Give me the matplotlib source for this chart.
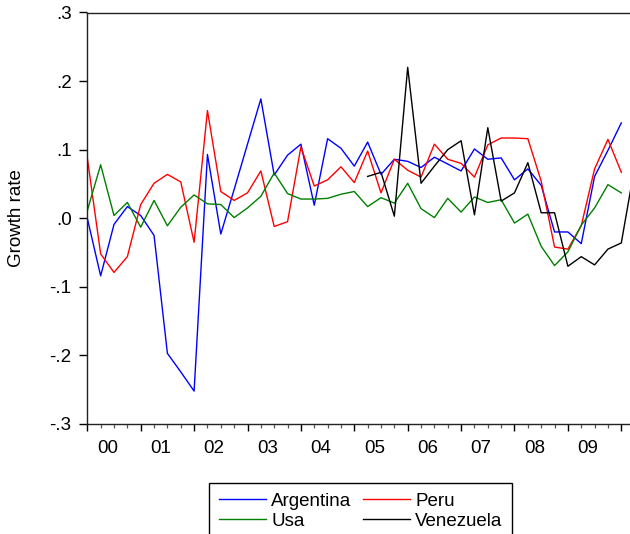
import numpy as np
import matplotlib
matplotlib.use("Agg")
import matplotlib.pyplot as plt
from matplotlib.ticker import FixedLocator, FuncFormatter, MultipleLocator

plt.rcParams['font.family'] = ['Liberation Sans', 'DejaVu Sans']

# Quarterly observations 2000Q1 .. 2010Q2
quarters = [f"{y}Q{q}" for y in range(2000, 2011) for q in range(1, 5)][:42]
year_labels = ["00", "01", "02", "03", "04", "05", "06", "07", "08", "09"]

nan = np.nan
argentina = [0.000, -0.084, -0.009, 0.017, 0.004, -0.025, -0.197, -0.224, -0.252, 0.093,
             -0.023, 0.042, 0.108, 0.174, 0.063, 0.092, 0.108, 0.019, 0.116, 0.102,
             0.076, 0.111, 0.064, 0.086, 0.083, 0.074, 0.089, 0.079, 0.069, 0.101,
             0.086, 0.088, 0.056, 0.072, 0.048, -0.020, -0.020, -0.037, 0.061, 0.099,
             0.139, nan]
peru = [0.088, -0.052, -0.079, -0.056, 0.020, 0.051, 0.064, 0.053, -0.035, 0.157,
        0.039, 0.026, 0.037, 0.069, -0.012, -0.005, 0.104, 0.047, 0.056, 0.075,
        0.052, 0.098, 0.037, 0.086, 0.070, 0.060, 0.108, 0.086, 0.080, 0.060,
        0.107, 0.117, 0.117, 0.116, 0.054, -0.042, -0.045, -0.011, 0.072, 0.115,
        0.067, nan]
usa = [0.011, 0.078, 0.004, 0.023, -0.013, 0.026, -0.011, 0.016, 0.034, 0.021,
       0.020, 0.001, 0.015, 0.032, 0.066, 0.036, 0.028, 0.028, 0.029, 0.035,
       0.039, 0.017, 0.030, 0.022, 0.051, 0.014, 0.001, 0.029, 0.009, 0.031,
       0.023, 0.027, -0.007, 0.006, -0.041, -0.069, -0.049, -0.010, 0.015, 0.049,
       0.037, nan]
venezuela = [nan] * 21 + [0.061, 0.067, 0.003, 0.220, 0.051, 0.076, 0.100, 0.113, 0.005,
                          0.132, 0.025, 0.037, 0.081, 0.008, 0.008, -0.070, -0.056, -0.068,
                          -0.045, -0.036, 0.075]

series = [("Argentina", argentina, "#0000ff"),
          ("Peru", peru, "#ff0000"),
          ("Usa", usa, "#008000"),
          ("Venezuela", venezuela, "#000000")]

W, H = 630, 534
fig = plt.figure(figsize=(W / 100, H / 100), dpi=100)
left_px, top_px, bottom_px = 87.3, 12.5, 424.0
step_px = 13.35
xmax = 42
ax = fig.add_axes([left_px / W, (H - bottom_px) / H,
                   xmax * step_px / W, (bottom_px - top_px) / H])

x = np.arange(len(quarters))
handles = {}
for name, vals, col in series:
    h, = ax.plot(x, np.array(vals, dtype=float), color=col, lw=1.0, label=name)
    handles[name] = h

ax.set_xlim(0, xmax)
ax.set_ylim(-0.3, 0.3)

ax.yaxis.set_major_locator(MultipleLocator(0.1))
def yfmt(v, pos):
    s = f"{v:.1f}"
    s = s.replace("0.", ".")
    if s == "-.0":
        s = ".0"
    return s
ax.yaxis.set_major_formatter(FuncFormatter(yfmt))
ax.tick_params(axis='y', direction='out', length=5.8, width=1.0, pad=5.5,
               labelsize=13.5, colors='black')

ax.xaxis.set_major_locator(FixedLocator(np.arange(0, xmax + 1, 4)))
ax.xaxis.set_minor_locator(FixedLocator(np.arange(0, xmax + 1, 1)))
ax.set_xticklabels([])
ax.tick_params(axis='x', which='major', direction='out', length=5.2, width=1.0)
ax.tick_params(axis='x', which='minor', direction='out', length=3.0, width=0.9,
               color='#555555')

trans = ax.get_xaxis_transform()
for k, lab in enumerate(year_labels):
    ax.text(1.5 + 4 * k, -0.039, lab, transform=trans, ha='center', va='top',
            fontsize=13.5)

for s in ax.spines.values():
    s.set_linewidth(1.0)
    s.set_color('#222222')

fig.text(17 / W, 1 - 218 / H, "Growth rate", rotation=90, ha='center',
         va='center', fontsize=13.5)

order = ["Argentina", "Usa", "Peru", "Venezuela"]
leg = fig.legend(handles=[handles[n] for n in order], labels=order,
                 ncol=2, loc='upper left',
                 bbox_to_anchor=(209.3 / W, 1 - 483.3 / H),
                 bbox_transform=fig.transFigure,
                 fontsize=13.5, frameon=True, fancybox=False, framealpha=1,
                 edgecolor='black', handlelength=2.5, handletextpad=0.3,
                 columnspacing=0.6, labelspacing=0.15, borderpad=0.5,
                 borderaxespad=0)
leg.get_frame().set_linewidth(1.0)
fig.savefig("out.png", dpi=100)
